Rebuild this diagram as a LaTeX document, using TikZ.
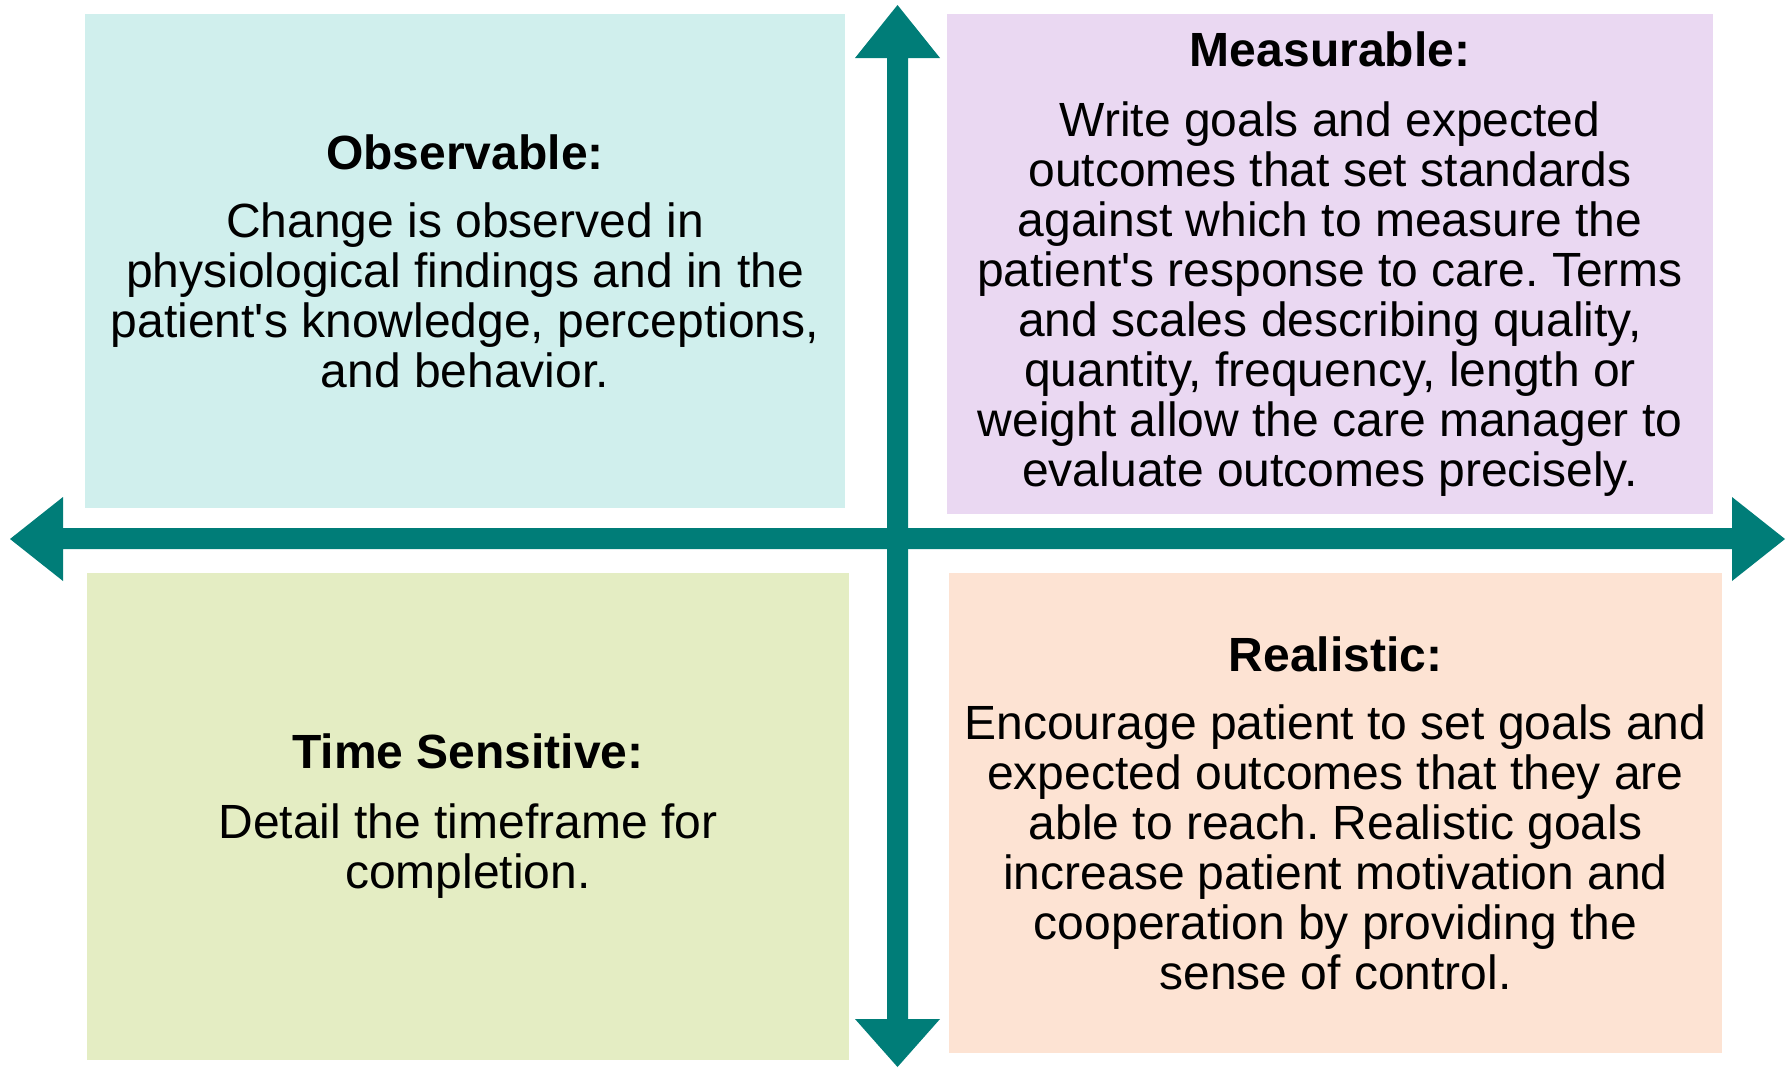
\documentclass[tikz,border=0pt]{standalone}
\usepackage{fontspec}
\setmainfont{Liberation Sans}
\frenchspacing
\definecolor{tlfill}{HTML}{D0EFED}
\definecolor{trfill}{HTML}{EAD8F2}
\definecolor{blfill}{HTML}{E4EDC3}
\definecolor{brfill}{HTML}{FDE3D3}
\definecolor{axiscol}{HTML}{007D78}
\begin{document}
\begin{tikzpicture}[x=1pt,y=-1pt,
  quad/.style={rectangle, inner sep=0pt, align=center, text=black,
    font=\fontsize{48}{50}\selectfont},
  axis/.style={fill=axiscol}]
\useasboundingbox (0,0) rectangle (1790,1068);
\node[quad, fill=tlfill, minimum width=760pt, minimum height=494pt] (obs) at (465,261)
  {\textbf{Observable:}\\[18pt]
   Change is observed in\\
   physiological findings and in the\\
   patient\textquotesingle s knowledge, perceptions,\\
   and behavior.};
\node[quad, fill=trfill, minimum width=766pt, minimum height=500pt] (meas) at (1330,264)
  {\textbf{Measurable:}\\[20pt]
   Write goals and expected\\
   outcomes that set standards\\
   against which to measure the\\
   patient\textquotesingle s response to care. Terms\\
   and scales describing quality,\\
   quantity, frequency, length or\\
   weight allow the care manager to\\
   evaluate outcomes precisely.};
\node[quad, fill=blfill, minimum width=762pt, minimum height=487pt] (time) at (468,816.5)
  {\textbf{Time Sensitive:}\\[20pt]
   Detail the timeframe for\\
   completion.};
\node[quad, fill=brfill, minimum width=773pt, minimum height=480pt] (real) at (1335.5,813)
  {\textbf{Realistic:}\\[18pt]
   Encourage patient to set goals and\\
   expected outcomes that they are\\
   able to reach. Realistic goals\\
   increase patient motivation and\\
   cooperation by providing the\\
   sense of control.};
\fill[axis] (887,58) -- (855,58) -- (897.5,5) -- (940,58) -- (908,58)
  -- (908,1019) -- (940,1019) -- (897.5,1067) -- (855,1019) -- (887,1019) -- cycle;
\fill[axis] (63,528) -- (63,497) -- (10,539) -- (63,581) -- (63,549)
  -- (1732,549) -- (1732,581) -- (1785,539) -- (1732,497) -- (1732,528) -- cycle;
\end{tikzpicture}
\end{document}
